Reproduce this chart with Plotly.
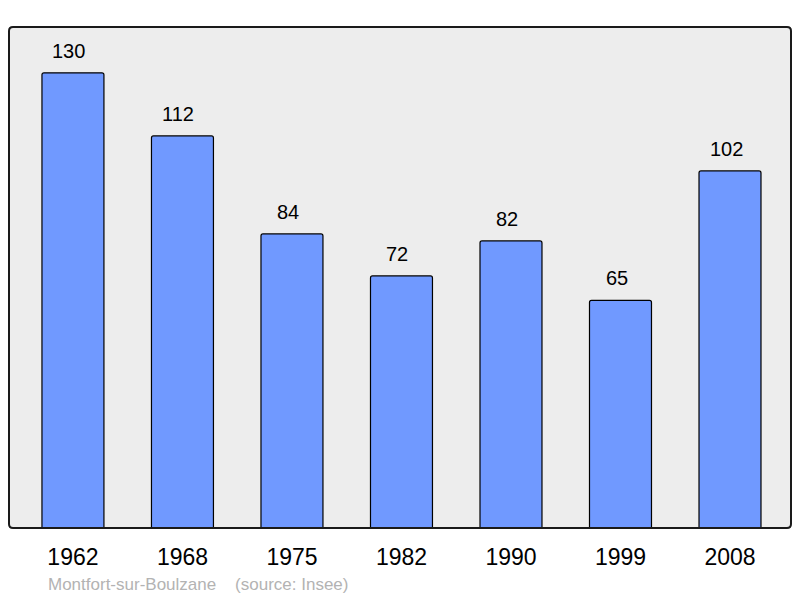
import plotly.graph_objects as go

years = ["1962", "1968", "1975", "1982", "1990", "1999", "2008"]
population = [130, 112, 84, 72, 82, 65, 102]
source_text = "Montfort-sur-Boulzane\u00a0\u00a0\u00a0\u00a0(source: Insee)"

idx = list(range(len(years)))
FONT = "Liberation Sans, Arial, sans-serif"

fig = go.Figure()
fig.add_trace(go.Bar(
    x=idx, y=population, width=0.566,
    marker=dict(color="#7099ff", line=dict(color="#000000", width=1.2), cornerradius=2),
    hoverinfo="skip",
))

for i, v in zip(idx, population):
    fig.add_annotation(x=i, y=v, text=str(v), showarrow=False, yshift=22, xshift=-4,
                       font=dict(size=20, color="#000000", family=FONT),
                       xanchor="center", yanchor="middle")

fig.add_annotation(xref="paper", yref="paper", x=0.0474, y=-0.112, text=source_text,
                   showarrow=False, xanchor="left", yanchor="middle",
                   font=dict(size=17, color="#b3b3b3", family=FONT))

# rounded border around plot area (paper coords)
W, H = 782.0, 501.0
r = 4.0
rx, ry = r / W, r / H
path = (f"M {rx},0 L {1-rx},0 Q 1,0 1,{ry} L 1,{1-ry} Q 1,1 {1-rx},1 "
        f"L {rx},1 Q 0,1 0,{1-ry} L 0,{ry} Q 0,0 {rx},0 Z")
fig.add_shape(type="path", xref="paper", yref="paper", path=path,
              line=dict(color="#1a1a1a", width=2), layer="above")

fig.update_layout(
    width=792, height=590,
    margin=dict(l=1, r=9, t=19, b=70),
    paper_bgcolor="#ffffff",
    plot_bgcolor="#ededed",
    showlegend=False,
    font=dict(family=FONT, color="#000000"),
    xaxis=dict(range=[-0.584, 6.557], tickvals=idx, ticktext=years, showgrid=False,
               zeroline=False, ticks="outside", ticklen=8, tickcolor="rgba(0,0,0,0)",
               tickfont=dict(size=23, color="#000000"), fixedrange=True),
    yaxis=dict(range=[0, 143.1], showgrid=False, zeroline=False, showticklabels=False,
               fixedrange=True),
)

fig.write_html("out.html")
